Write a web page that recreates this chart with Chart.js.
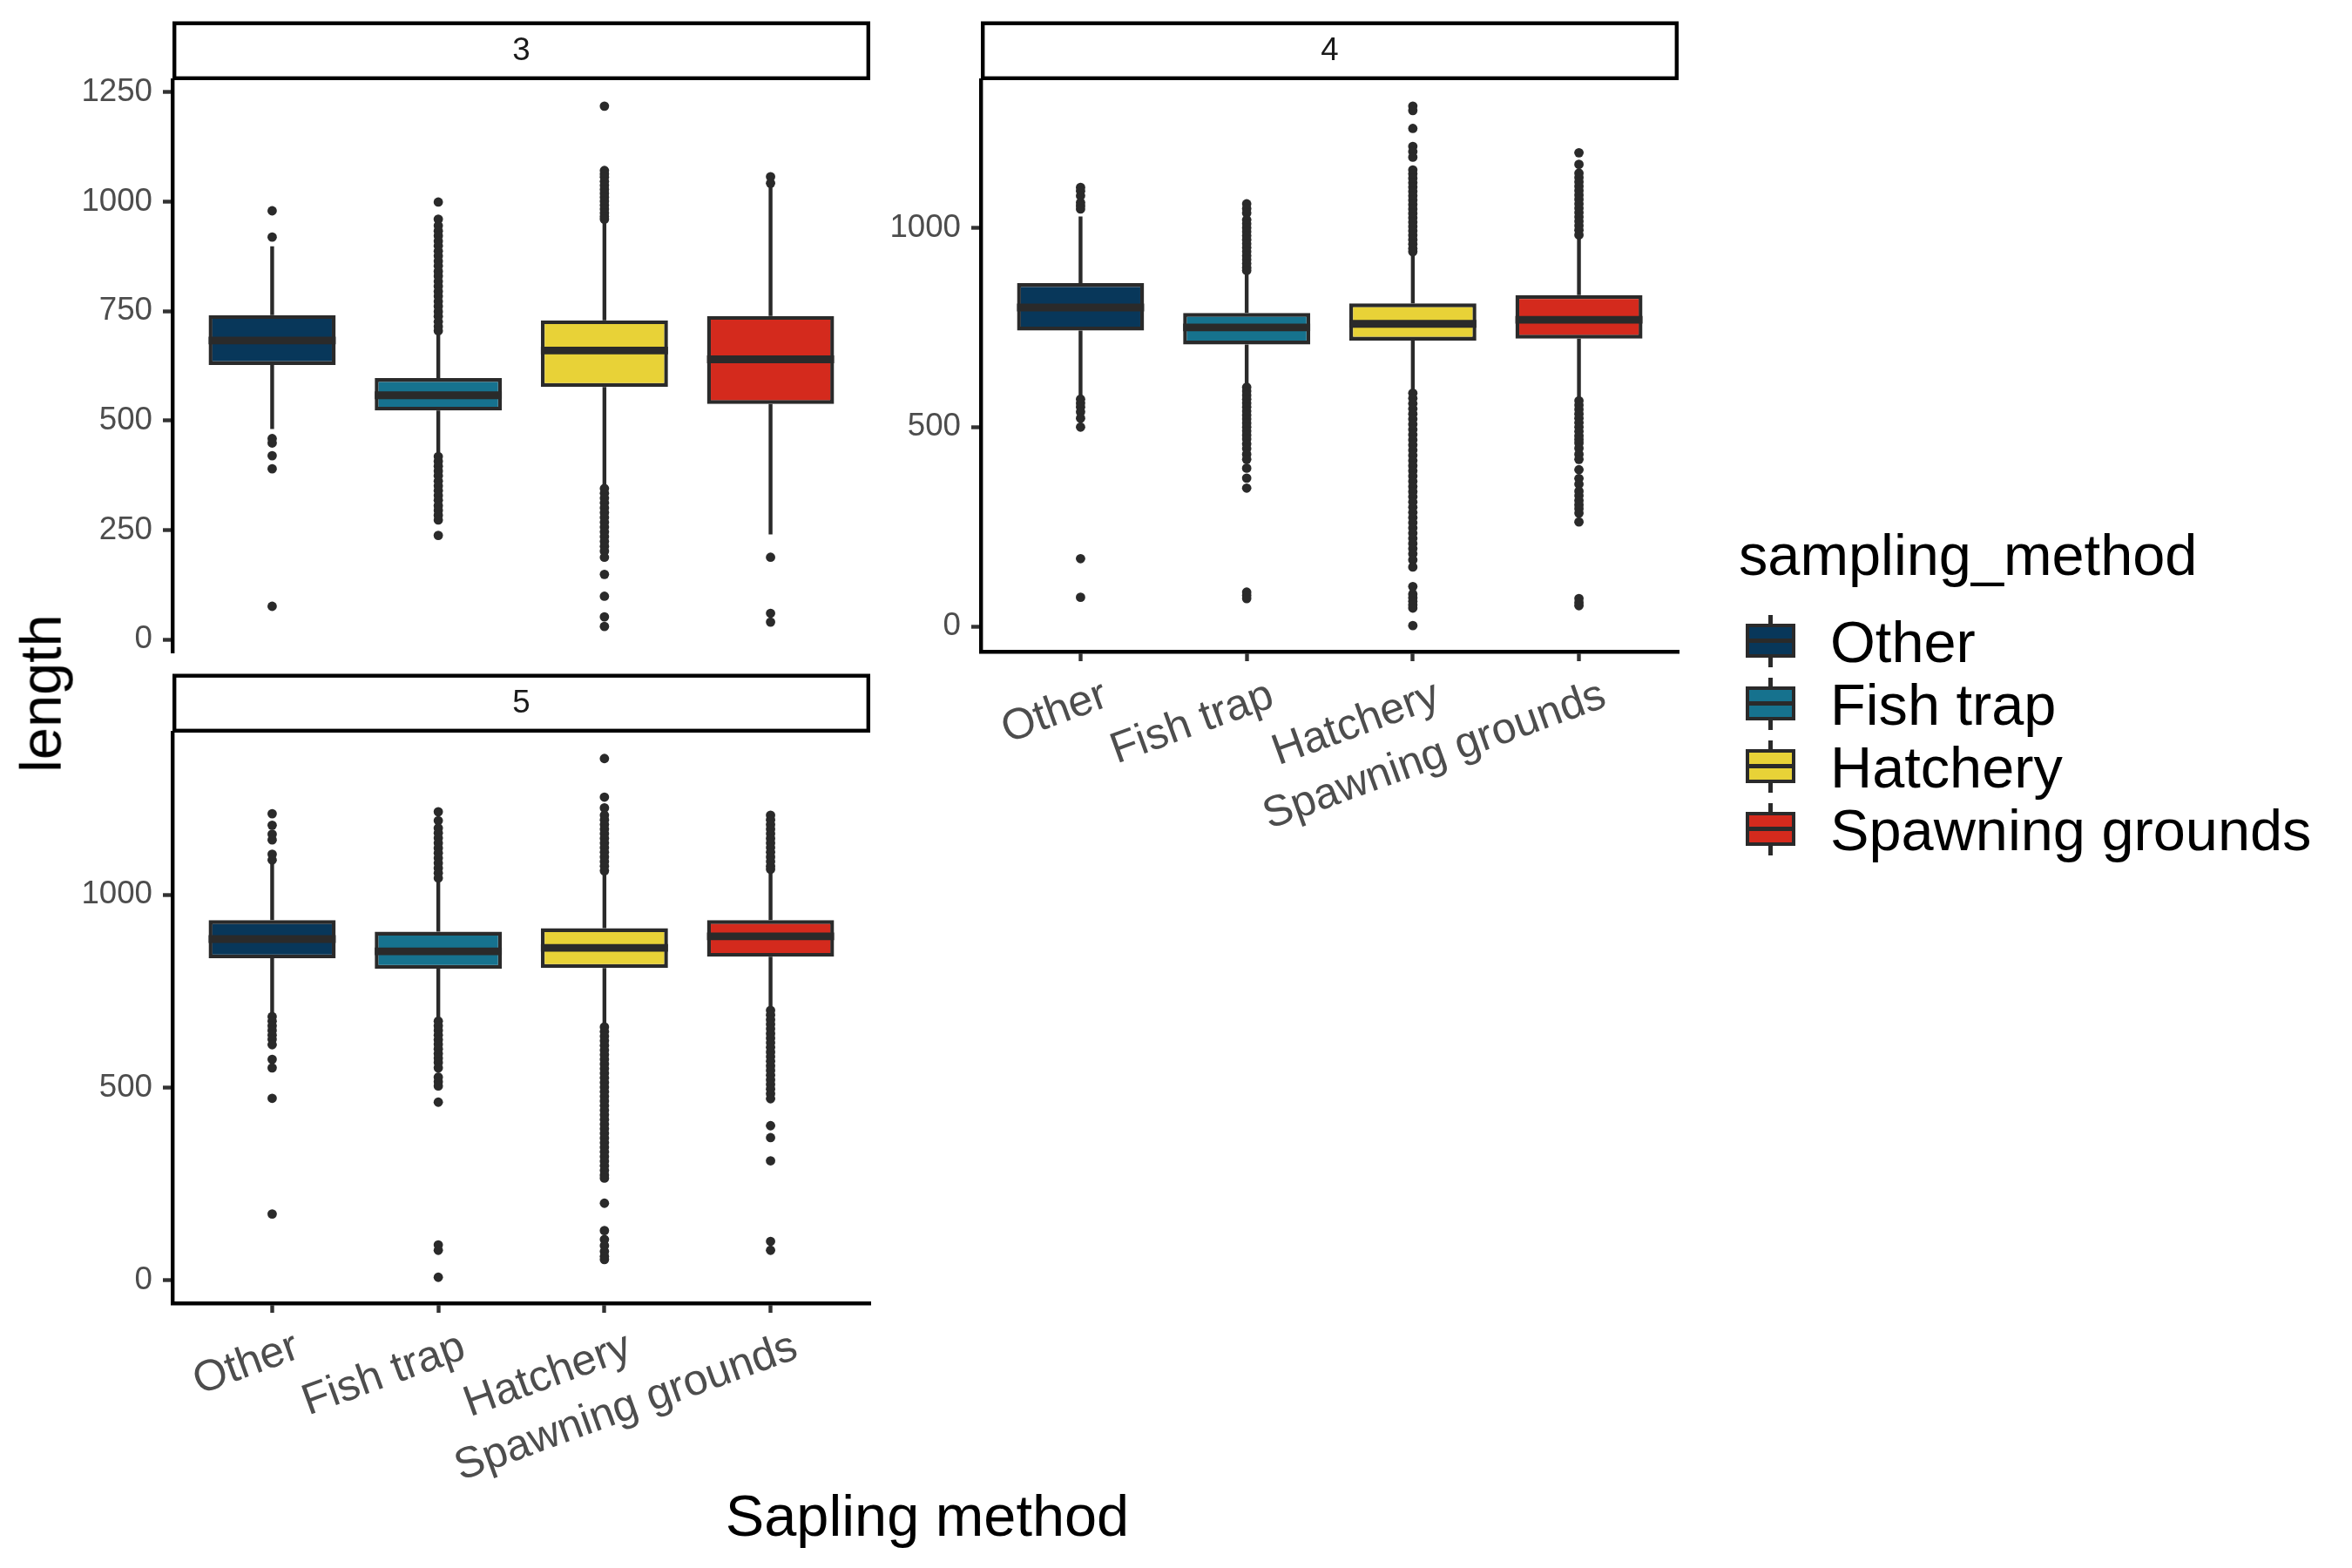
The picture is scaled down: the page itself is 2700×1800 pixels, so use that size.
<!DOCTYPE html>
<html>
<head>
<meta charset="utf-8">
<title>length by sampling method, faceted by age</title>
<script src="https://cdn.jsdelivr.net/npm/chart.js@4.4.1/dist/chart.umd.min.js"></script>
<style>
  html, body { margin: 0; padding: 0; background: #fff; }
  #page {
    position: relative; width: 2700px; height: 1800px; overflow: hidden; background: #fff;
    font-family: 'Liberation Sans', Arial, Helvetica, sans-serif;
  }
  canvas { position: absolute; }
  .txt { position: absolute; white-space: nowrap; line-height: 1; color: #000; font-size: 66.7px; }
  #ytitle { left: 46.9px; top: 796px; transform: translate(-50%, -50%) rotate(-90deg); }
  #xtitle { left: 1064.5px; top: 1706.5px; transform: translateX(-50%); }
  #legendTitle { left: 1996px; top: 603.5px; }
  .key { position: absolute; left: 2004px; width: 57px; height: 60px; }
  .key .whisker { position: absolute; left: 26.3px; top: 0; width: 4.4px; height: 60px; background: #2a2a2a; }
  .key .box { position: absolute; left: 0; top: 10.5px; width: 57px; height: 39px; box-sizing: border-box; border: 4.4px solid #2a2a2a; }
  .key .med { position: absolute; left: 0; top: 27.8px; width: 57px; height: 4.4px; background: #2a2a2a; }
</style>
</head>
<body>
<div id="page">
  <canvas id="age3" width="1020" height="800" style="left:0px;top:0px"></canvas>
  <canvas id="age4" width="1014" height="1000" style="left:926px;top:0px"></canvas>
  <canvas id="age5" width="1020" height="1100" style="left:0px;top:700px"></canvas>
  <div class="txt" id="ytitle">length</div>
  <div class="txt" id="xtitle">Sapling method</div>
  <div class="txt" id="legendTitle">sampling_method</div>
</div>
<script>
// --- DATA ---
const categories = ['Other', 'Fish trap', 'Hatchery', 'Spawning grounds'];
const ageClasses = ['3', '4', '5'];

// age 3
const q1Age3 = [627, 523, 577, 538];
const medianAge3 = [683, 558, 660, 640];
const q3Age3 = [741, 597, 729, 739];
const whiskerLowAge3 = [481, 425, 350, 240];
const whiskerHighAge3 = [898, 700, 955, 1035];
const outliersAge3 = [
  [979, 919, 459, 449, 420, 390, 76],
  [999, 960, 945, 933, 922, 910, 899, 887, 876, 864, 853, 841, 830, 818, 807, 795, 784, 772, 761, 749, 738, 726, 715, 705,
   418, 407, 396, 385, 374, 362, 351, 340, 329, 318, 306, 295, 284, 273, 238],
  [1218, 1071, 1063, 1056, 1046, 1037, 1028, 1019, 1010, 1001, 992, 983, 974, 966, 960,
   345, 334, 323, 312, 301, 290, 279, 268, 257, 246, 235, 224, 213, 202, 188, 149, 99, 52, 30],
  [1057, 1042, 188, 60, 40]
];
const yTicksAge3 = [0, 250, 500, 750, 1000, 1250];

// age 4
const q1Age4 = [742, 707, 717, 722];
const medianAge4 = [800, 750, 759, 769];
const q3Age4 = [861, 786, 810, 831];
const whiskerLowAge4 = [576, 604, 588, 570];
const whiskerHighAge4 = [1028, 890, 938, 978];
const outliersAge4 = [
  [1101, 1092, 1080, 1063, 1055, 1047, 570, 560, 550, 538, 522, 500, 170, 73],
  [1060, 1048, 1037, 1020, 1010, 1000, 990, 980, 970, 960, 950, 940, 930, 920, 910, 900, 893,
   600, 590, 580, 570, 560, 550, 540, 530, 520, 510, 500, 490, 480, 470, 458, 446, 432, 419, 397, 372, 347, 86, 78, 70],
  [1305, 1294, 1249, 1204, 1191, 1177, 1145, 1135, 1124, 1113, 1102, 1091, 1080, 1069, 1058, 1047, 1036, 1025, 1014,
   1003, 992, 981, 970, 959, 948, 940,
   585, 572, 559, 546, 533, 520, 507, 494, 481, 468, 455, 442, 429, 416, 403, 390, 377, 364, 351, 338, 325, 312,
   299, 286, 273, 260, 247, 234, 221, 208, 195, 182, 167, 149, 100, 81, 72, 63, 54, 46, 2],
  [1188, 1159, 1137, 1126, 1115, 1104, 1093, 1082, 1071, 1060, 1049, 1038, 1027, 1016, 1005, 994, 982,
   566, 555, 544, 533, 522, 511, 500, 489, 478, 469, 460, 447, 432, 419, 393, 371, 357, 339, 328, 316, 305, 295,
   284, 262, 70, 60, 52]
];
const yTicksAge4 = [0, 500, 1000];

// age 5
const q1Age5 = [835, 808, 810, 839];
const medianAge5 = [885, 853, 862, 892];
const q3Age5 = [934, 904, 913, 934];
const whiskerLowAge5 = [690, 677, 663, 705];
const whiskerHighAge5 = [1083, 1033, 1056, 1061];
const outliersAge5 = [
  [1210, 1180, 1157, 1142, 1105, 1090, 684, 672, 660, 648, 636, 625, 611, 573, 551, 472, 172],
  [1215, 1192, 1173, 1160, 1147, 1134, 1121, 1108, 1095, 1082, 1069, 1056, 1043,
   672, 660, 648, 636, 624, 612, 600, 588, 576, 565, 551, 527, 515, 504, 462, 92, 78, 8],
  [1353, 1253, 1225, 1206, 1194, 1182, 1170, 1158, 1146, 1134, 1122, 1110, 1098, 1086, 1074, 1062,
   657, 645, 633, 621, 609, 597, 585, 573, 561, 549, 537, 525, 513, 501, 489, 477, 465, 453, 441, 429, 417,
   405, 393, 381, 369, 357, 345, 333, 321, 309, 297, 285, 273, 265, 200, 129, 106, 90, 75, 62, 54],
  [1206, 1194, 1182, 1170, 1158, 1146, 1134, 1122, 1110, 1098, 1086, 1074, 1066,
   700, 688, 676, 664, 652, 640, 628, 616, 604, 592, 580, 568, 556, 544, 532, 520, 508, 496, 484, 471,
   401, 370, 310, 101, 78]
];
const yTicksAge5 = [0, 500, 1000];

// --- STYLE ---
const boxColors = ['#08375A', '#16728E', '#E8D237', '#D42A1D'];
const lineColor = '#2a2a2a';
const fontFamily = "'Liberation Sans', Arial, Helvetica, sans-serif";

// ggplot-like 5% expansion of the data range
function expandedRange(stats) {
  const all = [].concat(stats.lo, stats.hi, ...stats.outliers);
  const lo = Math.min(...all), hi = Math.max(...all);
  const pad = (hi - lo) * 0.05;
  return { min: lo - pad, max: hi + pad };
}

// whiskers, medians and the facet strip, drawn through the chart scales
function boxplotParts(stats, stripLabel) {
  return {
    id: 'boxplotParts',
    beforeDatasetsDraw(chart) {
      const { ctx, scales: { x, y } } = chart;
      ctx.save();
      ctx.strokeStyle = lineColor;
      ctx.lineWidth = 4.4;
      stats.q1.forEach((q, i) => {
        const px = x.getPixelForValue(i + 1);
        ctx.beginPath();
        ctx.moveTo(px, y.getPixelForValue(stats.lo[i]));
        ctx.lineTo(px, y.getPixelForValue(q));
        ctx.moveTo(px, y.getPixelForValue(stats.q3[i]));
        ctx.lineTo(px, y.getPixelForValue(stats.hi[i]));
        ctx.stroke();
      });
      ctx.restore();
    },
    afterDatasetsDraw(chart) {
      const { ctx, scales: { y } } = chart;
      const bars = chart.getDatasetMeta(0).data;
      ctx.save();
      ctx.strokeStyle = lineColor;
      ctx.lineWidth = 8.9;
      stats.median.forEach((m, i) => {
        const bar = bars[i];
        const py = y.getPixelForValue(m);
        ctx.beginPath();
        ctx.moveTo(bar.x - bar.width / 2, py);
        ctx.lineTo(bar.x + bar.width / 2, py);
        ctx.stroke();
      });
      ctx.restore();
    },
    afterDraw(chart) {
      const { ctx, chartArea: a } = chart;
      const h = 67.5, lw = 4.4;
      ctx.save();
      ctx.fillStyle = '#fff';
      ctx.fillRect(a.left, a.top - h, a.right - a.left, h);
      ctx.strokeStyle = '#000';
      ctx.lineWidth = lw;
      ctx.strokeRect(a.left + lw / 2, a.top - h + lw / 2, a.right - a.left - lw, h - lw);
      ctx.fillStyle = '#1A1A1A';
      ctx.font = '36.7px ' + fontFamily;
      ctx.textAlign = 'center';
      ctx.textBaseline = 'middle';
      ctx.fillText(stripLabel, (a.left + a.right) / 2, a.top - h / 2 + 1);
      ctx.restore();
    }
  };
}

function makePanel(canvasId, stripLabel, stats, yTicks, layout) {
  const range = expandedRange(stats);
  const outlierPoints = [];
  stats.outliers.forEach((list, i) => list.forEach(v => outlierPoints.push({ x: i + 1, y: v })));

  return new Chart(document.getElementById(canvasId), {
    type: 'bar',
    data: {
      datasets: [
        {
          type: 'bar',
          data: categories.map((c, i) => ({ x: i + 1, y: [stats.q1[i], stats.q3[i]] })),
          backgroundColor: boxColors,
          borderColor: lineColor,
          borderWidth: 4.4,
          borderSkipped: false,
          barPercentage: 0.765,
          categoryPercentage: 1,
          order: 2
        },
        {
          type: 'scatter',
          data: outlierPoints,
          pointRadius: 5.4,
          pointBackgroundColor: lineColor,
          pointBorderWidth: 0,
          order: 1
        }
      ]
    },
    options: {
      responsive: false,
      animation: false,
      devicePixelRatio: 1,
      events: [],
      layout: { padding: layout.padding },
      plugins: { legend: { display: false }, tooltip: { enabled: false } },
      scales: {
        x: {
          type: 'linear',
          display: layout.showX,
          min: 0.4,
          max: 4.6,
          offset: false,
          afterBuildTicks: s => { s.ticks = categories.map((c, i) => ({ value: i + 1 })); },
          afterFit: s => { if (layout.xHeight) s.height = layout.xHeight; },
          ticks: {
            autoSkip: false,
            minRotation: 20,
            maxRotation: 20,
            padding: 10,
            labelOffset: 29,
            color: '#4D4D4D',
            font: { family: fontFamily, size: 50 },
            callback: v => categories[v - 1]
          },
          grid: { offset: false, drawOnChartArea: false, tickLength: 11, tickWidth: 4.4, tickColor: '#333' },
          border: { display: true, color: '#000', width: 4.4 }
        },
        y: {
          type: 'linear',
          min: range.min,
          max: range.max,
          afterBuildTicks: s => { s.ticks = yTicks.map(v => ({ value: v })); },
          afterFit: s => { s.width = layout.yWidth; },
          ticks: {
            padding: 12,
            color: '#4D4D4D',
            font: { family: fontFamily, size: 36.7 },
            callback: v => String(v)
          },
          grid: { drawOnChartArea: false, tickLength: 11, tickWidth: 4.4, tickColor: '#333' },
          border: { display: true, color: '#000', width: 4.4 }
        }
      }
    },
    plugins: [boxplotParts(stats, stripLabel)]
  });
}

makePanel('age3', ageClasses[0],
  { q1: q1Age3, median: medianAge3, q3: q3Age3, lo: whiskerLowAge3, hi: whiskerHighAge3, outliers: outliersAge3 },
  yTicksAge3, { padding: { top: 92, right: 21, bottom: 51, left: 0 }, yWidth: 198, showX: false });

makePanel('age4', ageClasses[1],
  { q1: q1Age4, median: medianAge4, q3: q3Age4, lo: whiskerLowAge4, hi: whiskerHighAge4, outliers: outliersAge4 },
  yTicksAge4, { padding: { top: 92, right: 13, bottom: 0, left: 0 }, yWidth: 200, showX: true, xHeight: 252 });

makePanel('age5', ageClasses[2],
  { q1: q1Age5, median: medianAge5, q3: q3Age5, lo: whiskerLowAge5, hi: whiskerHighAge5, outliers: outliersAge5 },
  yTicksAge5, { padding: { top: 141, right: 21, bottom: 0, left: 0 }, yWidth: 198, showX: true, xHeight: 304 });

// legend
const page = document.getElementById('page');
categories.forEach((name, i) => {
  const center = 735.5 + i * 72;
  const key = document.createElement('div');
  key.className = 'key';
  key.style.top = (center - 30) + 'px';
  key.innerHTML = '<div class="whisker"></div><div class="box" style="background:' + boxColors[i] +
    '"></div><div class="med"></div>';
  page.appendChild(key);
  const label = document.createElement('div');
  label.className = 'txt';
  label.style.left = '2101px';
  label.style.top = (center + 24.5 - 56.5) + 'px';
  label.textContent = name;
  page.appendChild(label);
});
</script>
</body>
</html>
